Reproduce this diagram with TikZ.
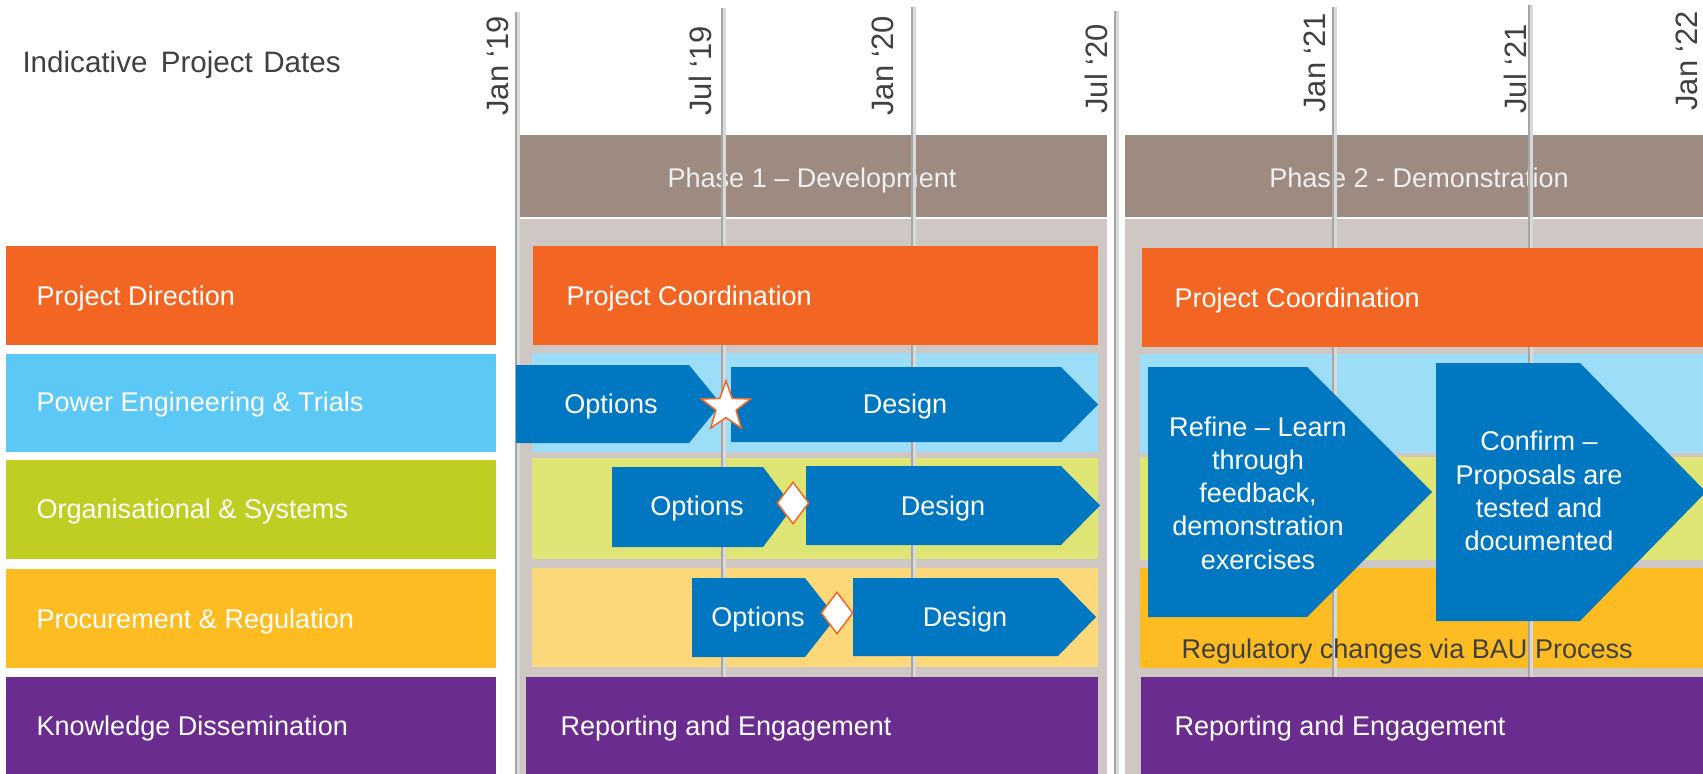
\documentclass[tikz,border=0pt]{standalone}
\usepackage{fontspec}
\setmainfont{Liberation Sans}
\usetikzlibrary{shapes.geometric}

\definecolor{diract}{HTML}{F26522}
\definecolor{powerblue}{HTML}{5CC8F5}
\definecolor{powerband}{HTML}{9CDEF8}
\definecolor{orggreen}{HTML}{C0CD22}
\definecolor{orgband}{HTML}{DFE574}
\definecolor{procyellow}{HTML}{FDBC22}
\definecolor{procband}{HTML}{FDD87A}
\definecolor{knowpurple}{HTML}{6A2C8F}
\definecolor{stageblue}{HTML}{0077C0}
\definecolor{phasehead}{HTML}{9D8B82}
\definecolor{phasebg}{HTML}{CFC7C4}
\definecolor{darktext}{HTML}{404040}

\tikzset{every picture/.style={line width=0.75pt}}
\tikzset{
  bodytext/.style={inner sep=0pt, text=white, font=\fontsize{20.3}{24.4}\selectfont},
  rowlabel/.style={bodytext, anchor=base west},
  stagetext/.style={bodytext, anchor=base},
  bigstage/.style={bodytext, align=center, anchor=center, font=\fontsize{20.3}{24.9}\selectfont},
  datelabel/.style={inner sep=0pt, rotate=90, anchor=base west, text=darktext, font=\fontsize{23.2}{28}\selectfont},
  gridline/.style={draw=black!35, line width=1.9pt},
  gridshadow/.style={draw=black!15, line width=3pt},
  stage/.style={fill=stageblue},
  gate/.style={diamond, draw=diract, fill=white, line width=1.1pt, inner sep=0pt, minimum width=24pt, minimum height=31.5pt},
  milestone/.style={star, star points=5, star point ratio=2.45, draw=diract, fill=white, line width=1.1pt, inner sep=0pt, minimum size=39pt}
}

\begin{document}
\begin{tikzpicture}[x=0.75pt,y=0.75pt,yscale=-1,xscale=1]
\useasboundingbox (0,0) rectangle (1703,774);
\fill [white] (0,0) rectangle (1703,774);

% Title
\draw (22,73) node [anchor=base west, inner sep=0pt, text=darktext, font=\fontsize{22.2}{26}\selectfont] (title) {Indicative\hspace{0.45em}Project\hspace{0.35em}Dates};

%Shape: Phase headers
\fill [phasehead] (517,135) rectangle (1107,217);
\fill [phasehead] (1125,135) rectangle (1703,217);
\draw (812,187) node [bodytext, anchor=base, text=white!94!black] (phaseone) {Phase 1 – Development};
\draw (1419,187) node [bodytext, anchor=base, text=white!94!black] (phasetwo) {Phase 2 - Demonstration};

%Shape: Phase backgrounds
\fill [phasebg] (517,219) rectangle (1107,774);
\fill [phasebg] (1125,219) rectangle (1703,774);

%Shape: Workstream bands
\fill [powerband] (532,353) rectangle (1098,452);
\fill [orgband] (532,458) rectangle (1098,559);
\fill [procband] (532,568) rectangle (1098,667);
\fill [powerband] (1140,354) rectangle (1703,453);
\fill [orgband] (1140,457) rectangle (1703,560);
\fill [procyellow] (1140,568) rectangle (1703,668);

%Straight Lines: time grid
\foreach \x/\t in {516/12, 722/8, 912/7, 1115/11, 1333/7, 1529/5} {
  \draw [gridshadow] (\x+1.5,\t) -- (\x+1.5,774) ;
  \draw [gridline] (\x,\t) -- (\x,774) ;
}

% Date labels
\foreach \x/\y/\d [count=\i] in {508/116/Jan ‘19, 711/116/Jul ‘19, 893/116/Jan ‘20, 1107/114/Jul ‘20, 1325/113/Jan ‘21, 1526/114/Jul ‘21, 1697/111/Jan ‘22}
  \draw (\x,\y) node [datelabel] (date\i) {\d};

%Shape: Workstream labels
\fill [diract] (6,246) rectangle (496,345);
\fill [powerblue] (6,354) rectangle (496,452);
\fill [orggreen] (6,460) rectangle (496,559);
\fill [procyellow] (6,569) rectangle (496,668);
\fill [knowpurple] (6,677) rectangle (496,774);
\draw (36,305) node [rowlabel] (direction) {Project Direction};
\draw (36,411) node [rowlabel] (power) {Power Engineering \& Trials};
\draw (36,518) node [rowlabel] (organisation) {Organisational \& Systems};
\draw (36,628) node [rowlabel] (procurement) {Procurement \& Regulation};
\draw (36,735) node [rowlabel] (knowledge) {Knowledge Dissemination};

%Shape: Project coordination
\fill [diract] (533,246) rectangle (1098,345);
\fill [diract] (1142,248) rectangle (1703,347);
\draw (566,305) node [rowlabel] (coordone) {Project Coordination};
\draw (1174,307) node [rowlabel] (coordtwo) {Project Coordination};

%Shape: Reporting and engagement
\fill [knowpurple] (526,677) rectangle (1098,774);
\fill [knowpurple] (1141,677) rectangle (1703,774);
\draw (560,735) node [rowlabel] (reportone) {Reporting and Engagement};
\draw (1174,735) node [rowlabel] (reporttwo) {Reporting and Engagement};

%Shape: Pentagons, power engineering
\fill [stage] (516,365) -- (689,365) -- (721,404) -- (689,443) -- (516,443) -- cycle ;
\fill [stage] (731,367) -- (1061,367) -- (1098,404.5) -- (1061,442) -- (731,442) -- cycle ;
\draw (611,413) node [stagetext] (optpower) {Options};
\draw (905,413) node [stagetext] (despower) {Design};
\draw (726,407) node [milestone] (starpower) {};

%Shape: Pentagons, organisational
\fill [stage] (612,467) -- (763,467) -- (793,507) -- (763,547) -- (612,547) -- cycle ;
\fill [stage] (806,466) -- (1061,466) -- (1100,505.5) -- (1061,545) -- (806,545) -- cycle ;
\draw (697,515) node [stagetext] (optorg) {Options};
\draw (943,515) node [stagetext] (desorg) {Design};
\draw (793,503) node [gate] (gateorg) {};

%Shape: Pentagons, procurement
\fill [stage] (692,578) -- (805,578) -- (836,617.5) -- (805,657) -- (692,657) -- cycle ;
\fill [stage] (853,578) -- (1058,578) -- (1096,617) -- (1058,656) -- (853,656) -- cycle ;
\draw (758,626) node [stagetext] (optproc) {Options};
\draw (965,626) node [stagetext] (desproc) {Design};
\draw (837,613) node [gate] (gateproc) {};

%Shape: Pentagons, demonstration
\fill [stage] (1148,367) -- (1307,367) -- (1432,492) -- (1307,617) -- (1148,617) -- cycle ;
\fill [stage] (1436,363) -- (1580,363) -- (1706,492) -- (1580,621) -- (1436,621) -- cycle ;
\draw (1258,493) node [bigstage] (refine) {Refine – Learn\\through\\feedback,\\demonstration\\exercises};
\draw (1539,491) node [bigstage] (confirm) {Confirm –\\Proposals are\\tested and\\documented};

% Text Node
\draw (1181,658) node [rowlabel, text=darktext] (regchange) {Regulatory changes via BAU Process};

\end{tikzpicture}
\end{document}
